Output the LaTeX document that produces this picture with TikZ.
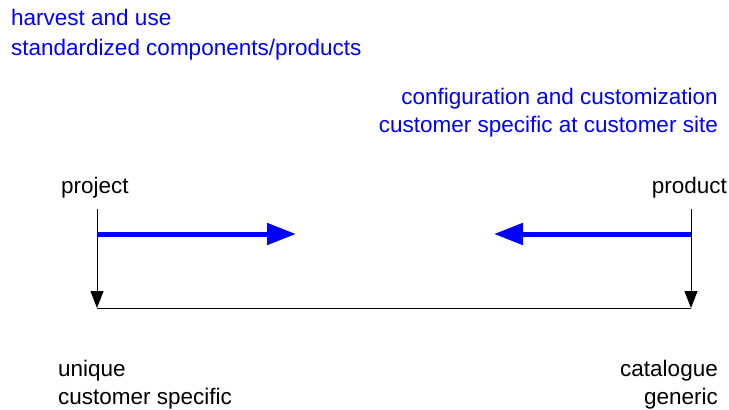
\documentclass[tikz,border=0pt]{standalone}
\usepackage{fontspec}
\setmainfont{Liberation Sans}
\usetikzlibrary{arrows.meta}

\begin{document}
\begin{tikzpicture}[x=1pt, y=-1pt,
    label/.style={inner sep=0pt, align=left, font=\fontsize{22.5}{28}\selectfont},
    note/.style={label, text=blue},
    flow/.style={-{Triangle[length=29pt,width=21pt]}, line width=5pt, blue},
    axis/.style={-{Triangle[length=17pt,width=13pt]}, line width=0.9pt}]
    \useasboundingbox (0,0) rectangle (729,410);

    \node[note, anchor=west, font=\fontsize{22.5}{30}\selectfont] (harvest) at (11,35) {harvest and use\\standardized components/products};
    \node[note, anchor=east, align=right] (config) at (718,113) {configuration and customization\\customer specific at customer site};

    \node[label, anchor=west] (project) at (61,188) {project};
    \node[label, anchor=east] (product) at (727,188) {product};

    \coordinate (ptop) at (97,209);
    \coordinate (pbot) at (97,308);
    \coordinate (qtop) at (691,209);
    \coordinate (qbot) at (691,308);
    \coordinate (pstart) at (97,234);
    \coordinate (pend) at (296,234);
    \coordinate (qstart) at (691,234);
    \coordinate (qend) at (494,234);

    \draw[axis] (ptop) -- (pbot);
    \draw[axis] (qtop) -- (qbot);
    \draw[line width=0.9pt] (pbot) -- (qbot);

    \draw[flow] (pstart) -- (pend);
    \draw[flow] (qstart) -- (qend);

    \node[label, anchor=west] (unique) at (58,385) {unique\\customer specific};
    \node[label, anchor=east, align=right] (catalogue) at (718,385) {catalogue\\generic};
\end{tikzpicture}
\end{document}
